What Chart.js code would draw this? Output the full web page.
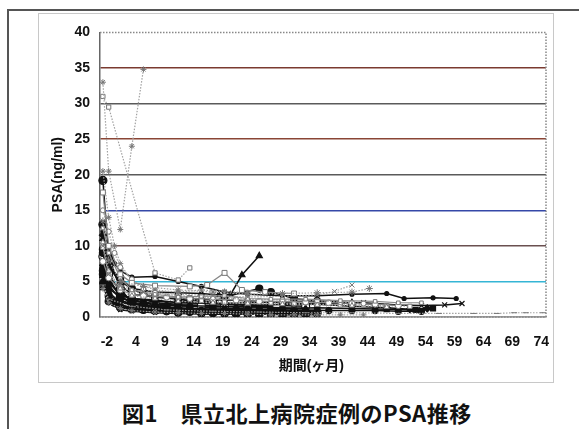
<!DOCTYPE html>
<html>
<head>
<meta charset="utf-8">
<script src="https://cdn.jsdelivr.net/npm/chart.js@4.4.1/dist/chart.umd.min.js"></script>
<style>
  html, body { margin: 0; padding: 0; background: #fff; }
  body { width: 579px; height: 429px; position: relative; overflow: hidden; }
  .frame { position: absolute; left: 7px; top: 9px; right: -10px; bottom: -10px;
           border-top: 2px solid #555; border-left: 2px solid #555; }
  .box { position: absolute; left: 38px; top: 13px; width: 514px; height: 368px;
         border: 1.5px solid #c8c8c8; }
  .caption { position: absolute; left: 122px; top: 399px; white-space: nowrap; letter-spacing: 0.5px;
             font: bold 22px "Noto Sans CJK JP", sans-serif; line-height: 26px; color: #111; }
</style>
</head>
<body>
<div class="frame"></div>
<div class="box"><canvas id="psa" width="514" height="368"></canvas></div>
<div class="caption">図1　県立北上病院症例のPSA推移</div>
<script>
// months on the category axis: -2, then 0..75
const months = [-2];
for (let m = 0; m <= 75; m++) months.push(m);
const xTickLabels = ['-2', '4', '9', '14', '19', '24', '29', '34', '39', '44', '49', '54', '59', '64', '69', '74'];
const yTicks = [0, 5, 10, 15, 20, 25, 30, 35, 40];

// each patient: [month, PSA]
const ptA = [[-2, 33], [0, 20.5], [2, 12.3], [4, 24], [6, 34.8]];
const ptB = [[-2, 31], [0, 29.5], [8, 6.2], [12, 5.2], [14, 6.9]];
const ptC = [[-2, 12], [0, 9.5], [1, 7.5], [2, 6.5], [4, 5.6], [8, 5.7], [12, 5], [16, 4.3], [20, 3.5], [24, 3.2], [30, 3.0], [36, 3.0], [42, 3.2], [48, 3.3], [51, 2.6], [56, 2.7], [60, 2.6]];
const ptD = [[-2, 8], [0, 5], [2, 3.2], [4, 2.6], [8, 2.2], [14, 2.0], [20, 1.8], [26, 1.7], [32, 1.8], [38, 1.9], [44, 2.0], [50, 1.7], [54, 1.6], [58, 1.7], [61, 1.9]];
const ptE = [[-2, 4.5], [0, 2.5], [4, 1.5], [10, 1.0], [18, 0.8], [26, 0.7], [34, 0.6], [42, 0.6], [50, 0.5], [57, 0.5], [63, 0.5], [67, 0.5], [70, 0.6], [72, 0.6], [75, 0.6]];
const ptF = [[-2, 10], [0, 6], [2, 4.5], [6, 3.5], [12, 3.2], [18, 3.0], [24, 2.8], [30, 2.9], [36, 3.1], [39, 3.6], [42, 4.5]];
const ptG = [[-2, 13.5], [0, 8], [2, 5], [6, 4.3], [12, 3.8], [18, 3.5], [24, 3.2], [30, 3.3], [36, 3.4], [42, 3.5], [45, 4.0]];
const ptH = [[-2, 17.5], [0, 10], [2, 6], [4, 4.8], [8, 4.4], [14, 4.3], [17, 4.5], [20, 6.2], [23, 3.8], [27, 3.5], [32, 3.3]];
const ptT = [[-2, 11], [0, 7], [2, 5], [4, 4], [8, 3.5], [12, 3.4], [16, 3.3], [19, 3.1], [21, 3.1], [23, 5.9], [26, 8.6]];
const ptK1 = [[-2, 19.2], [0, 8.5], [2, 4], [4, 2], [6, 1.5], [8, 1.1], [12, 0.9], [16, 0.8], [20, 0.8], [24, 0.7], [28, 0.8], [32, 0.7], [36, 0.6]];
const ptK2 = [[-2, 6.5], [0, 2.2], [2, 1.3], [4, 1.1], [8, 1.0], [12, 0.6], [16, 0.5], [20, 0.5], [24, 0.4], [30, 0.4]];
const ptK3 = [[-2, 7], [0, 4.5], [2, 2.5], [4, 1.5], [8, 1.3], [14, 1.2], [20, 1.1], [26, 1.0], [32, 0.9], [36, 0.9]];
const ptK4 = [[-2, 5], [0, 3], [2, 2.2], [4, 2.0], [8, 1.8], [12, 1.6], [18, 1.5], [24, 1.4], [30, 1.3], [34, 1.2]];
const ptK5 = [[-2, 9], [0, 5], [2, 3], [4, 2.6], [8, 2.4], [12, 2.0], [14, 2.5], [18, 2.1], [20, 2.8], [26, 4.0], [28, 3.5], [32, 2.6], [36, 2.2]];
const ptK6 = [[-2, 11.5], [0, 7.5], [2, 4.5], [4, 3.2], [8, 2.8], [12, 2.6], [16, 2.5], [20, 2.4], [24, 2.3], [30, 2.0], [36, 1.8], [42, 1.5], [48, 1.3], [52, 1.1], [55, 1.2]];
const ptK7 = [[-2, 6], [0, 3.5], [2, 2], [4, 1.8], [8, 1.5], [12, 1.3], [18, 1.0], [24, 1.0], [30, 1.2], [36, 1.3], [42, 1.2], [48, 1.1], [53, 1.0], [56, 1.2]];
const ptK8 = [[-2, 8.5], [0, 6], [2, 3.5], [4, 2.3], [8, 1.9], [12, 1.6], [16, 1.6], [20, 1.5], [24, 1.4], [29, 1.6], [34, 1.5]];
const ptK9 = [[-2, 12.5], [0, 9], [2, 5.5], [4, 3.8], [8, 3.2], [12, 2.8], [16, 2.9], [20, 3.0], [24, 2.6], [28, 2.5], [34, 2.5], [40, 2.3], [46, 2.2], [50, 2.0], [54, 2.0]];
const ptK10 = [[-2, 10.5], [0, 6.5], [2, 4], [4, 3], [8, 2.6], [12, 2.2], [18, 2.0], [24, 1.9], [30, 1.8], [36, 1.7], [42, 1.6], [48, 1.4]];
const ptK11 = [[-2, 5.5], [0, 2], [2, 1.0], [4, 0.8], [8, 0.6], [12, 0.5], [18, 0.4], [24, 0.4], [30, 0.5], [34, 0.4]];
const ptK12 = [[-2, 15], [0, 12], [1, 9], [2, 7], [4, 5.3], [6, 4], [8, 3.4], [12, 3.0], [18, 2.7], [24, 2.5], [30, 2.4], [36, 2.3], [40, 2.1], [44, 1.9]];
const ptK13 = [[-2, 4.8], [0, 2.8], [2, 1.8], [4, 1.2], [8, 1.0], [14, 0.9], [20, 0.6], [26, 0.5], [32, 0.3], [36, 0.3]];
const ptK14 = [[-2, 7.5], [0, 4], [2, 2.8], [4, 2.2], [6, 2.5], [8, 2.0], [12, 1.8], [18, 1.9], [24, 2.0], [30, 2.1], [36, 2.3], [42, 2.0], [46, 1.8]];
const ptK15 = [[-2, 20.5], [0, 14], [1, 10], [2, 7.5], [4, 5], [8, 3.8], [12, 3.5], [16, 3.8], [20, 3.6], [24, 3.4]];
const ptK16 = [[-2, 9.5], [0, 7], [2, 5.5], [4, 4], [6, 3.2], [8, 2.8], [12, 2.5], [16, 2.2], [20, 1.8], [24, 1.6], [28, 1.5]];
const ptK17 = [[-2, 6], [0, 3], [1, 2], [2, 1.5], [4, 1.2], [6, 1], [8, 0.9], [10, 0.8], [12, 0.7], [14, 0.7], [16, 0.6], [18, 0.6], [20, 0.5], [22, 0.5], [24, 0.5], [26, 0.4], [28, 0.4], [30, 0.3], [32, 0.3]];
const ptK18 = [[-2, 4.2], [0, 2.5], [2, 1.6], [4, 1.4], [6, 1.3], [10, 1.2], [14, 1.0], [18, 0.9], [22, 0.8], [26, 0.7], [30, 0.7], [34, 0.6], [36, 0.6]];
const ptK19 = [[-2, 7.8], [0, 5.5], [2, 3.8], [4, 3.2], [6, 3], [10, 2.8], [14, 2.6], [18, 2.5], [22, 2.4], [26, 2.2], [30, 2.2], [34, 2.1], [38, 2.0], [42, 1.9], [46, 1.8], [50, 1.6]];
const ptK20 = [[-2, 13], [0, 5.5], [2, 2.8], [4, 2.0], [6, 1.6], [8, 1.4], [10, 1.2], [14, 1.0], [16, 0.9], [18, 0.6], [22, 0.5], [26, 0.5], [30, 0.4], [34, 0.4]];
const ptK21 = [[-2, 9.8], [0, 5.8], [2, 4.2], [4, 3.6], [8, 3.0], [12, 2.7], [16, 2.3], [20, 2.1], [24, 2.0], [28, 2.0], [32, 1.9], [36, 1.8], [40, 1.7], [44, 1.7], [48, 1.6], [52, 1.5]];
const ptK22 = [[-2, 5.8], [0, 2.4], [2, 1.4], [4, 1.0], [6, 0.9], [8, 0.8], [12, 0.7], [16, 0.6], [20, 0.8], [24, 1.0], [28, 0.9], [32, 0.8], [36, 0.7]];
const ptK23 = [[-2, 6.8], [0, 4.8], [2, 3.3], [4, 2.4], [6, 2.0], [8, 1.7], [10, 1.6], [14, 1.5], [18, 1.3], [22, 1.2], [26, 1.1], [30, 1.0], [34, 1.0], [38, 0.9], [42, 0.9], [46, 0.9], [50, 0.8], [54, 0.8]];
const ptK24 = [[-2, 4], [0, 2.0], [2, 1.2], [4, 0.9], [8, 0.7], [12, 0.6], [16, 0.5], [20, 0.5], [24, 0.4], [28, 0.3], [32, 0.3], [36, 0.3], [40, 0.3], [44, 0.3]];

const toXY = pts => pts.map(p => ({ x: String(p[0]), y: p[1] }));

function black(pts, style, r, fill) {
    return { data: toXY(pts), borderColor: '#111', borderWidth: 1.5, pointStyle: style,
        pointRadius: r, pointBackgroundColor: fill || '#111', pointBorderColor: '#111', pointBorderWidth: 1.2 };
}
function gray(pts, style, r, dashed) {
    return { data: toXY(pts), borderColor: dashed ? '#a2a2a2' : '#888', borderWidth: 1.2,
        borderDash: dashed ? [1.5, 1.5] : [],
        pointStyle: style, pointRadius: r, pointBackgroundColor: '#fff', pointBorderColor: '#777', pointBorderWidth: 1 };
}

const datasets = [
    gray(ptA, 'star', 3, true),
    gray(ptB, 'rect', 3, true),
    gray(ptE, 'line', 3, true),
    gray(ptF, 'crossRot', 3.5, true),
    gray(ptG, 'star', 3.5, true),
    gray(ptH, 'rect', 3.5, false),
    gray(ptK9, 'rect', 2.5, false),
    gray(ptK10, 'triangle', 3, true),
    gray(ptK12, 'circle', 2.5, true),
    gray(ptK15, 'star', 3, true),
    gray(ptK19, 'circle', 3, false),
    gray(ptK21, 'rect', 3, true),
    gray(ptK24, 'star', 3, true),
    black(ptC, 'circle', 2),
    black(ptD, 'crossRot', 3.5),
    black(ptT, 'triangle', 3.5),
    black(ptK1, 'circle', 4),
    black(ptK2, 'circle', 3.5),
    black(ptK3, 'rect', 3.5),
    black(ptK4, 'triangle', 3.5),
    black(ptK5, 'circle', 3.5),
    black(ptK6, 'rectRot', 3.5),
    black(ptK7, 'rect', 3.5),
    black(ptK8, 'circle', 4, '#fff'),
    black(ptK11, 'crossRot', 3),
    black(ptK13, 'circle', 3),
    black(ptK14, 'triangle', 3.5),
    black(ptK16, 'circle', 3.5),
    black(ptK17, 'circle', 3.5),
    black(ptK18, 'rect', 3.5),
    black(ptK20, 'circle', 4),
    black(ptK22, 'triangle', 3.5),
    black(ptK23, 'circle', 3)
];

const gridColors = { 0: '#999', 5: '#35b5d5', 10: '#6a5050', 15: '#3548a8', 20: '#5a5a5a', 25: '#8a4535', 30: '#5a5a5a', 35: '#7a3a30', 40: 'rgba(0,0,0,0)' };

// dotted frame round the plot area, as in the scan
const plotFrame = {
    id: 'plotFrame',
    beforeDatasetsDraw(chart) {
        const { ctx, chartArea: a } = chart;
        ctx.save();
        ctx.strokeStyle = '#888';
        ctx.lineWidth = 1.5;
        ctx.setLineDash([1.5, 1.5]);
        ctx.beginPath();
        ctx.moveTo(a.left, a.top);
        ctx.lineTo(a.right, a.top);
        ctx.lineTo(a.right, a.bottom);
        ctx.lineTo(a.left, a.bottom);
        ctx.stroke();
        ctx.restore();
    }
};

const tickFont = { family: '"Liberation Sans", Arial, sans-serif', size: 14, weight: 'bold' };
const titleFont = { family: '"Liberation Sans", "Noto Sans CJK JP", sans-serif', size: 14, weight: 'bold' };

new Chart(document.getElementById('psa').getContext('2d'), {
    type: 'line',
    data: { labels: months.map(String), datasets: datasets },
    options: {
        responsive: false,
        animation: false,
        layout: { padding: { top: 18, right: 7, left: 0, bottom: 0 } },
        plugins: { legend: { display: false }, tooltip: { enabled: false } },
        elements: { line: { tension: 0 } },
        scales: {
            x: {
                type: 'category',
                offset: true,
                grid: { display: false, drawTicks: false },
                border: { display: true, color: '#999', width: 1.5 },
                ticks: {
                    autoSkip: false, maxRotation: 0, padding: 17, labelOffset: 4,
                    color: '#111', font: tickFont,
                    callback: function (value) {
                        const lab = this.getLabelForValue(value);
                        return xTickLabels.includes(lab) ? lab : '';
                    }
                },
                title: { display: true, text: '期間(ヶ月)      ', color: '#111', font: titleFont, padding: { top: 0, bottom: 7 } },
                afterFit: s => { s.height = 65; s.paddingLeft = 0; s.paddingRight = 0; }
            },
            y: {
                min: 0, max: 40,
                afterBuildTicks: s => { s.ticks = yTicks.map(v => ({ value: v })); },
                grid: { drawTicks: false, lineWidth: 1.5, color: c => gridColors[c.tick.value] || '#666' },
                border: { display: true, color: '#666', width: 1.5 },
                ticks: { padding: 10, color: '#111', font: tickFont },
                title: { display: true, text: 'PSA(ng/ml)', color: '#111', font: titleFont, padding: { top: 11, bottom: 0 } },
                afterFit: s => { s.width = 61; }
            }
        }
    },
    plugins: [plotFrame]
});
</script>
</body>
</html>
